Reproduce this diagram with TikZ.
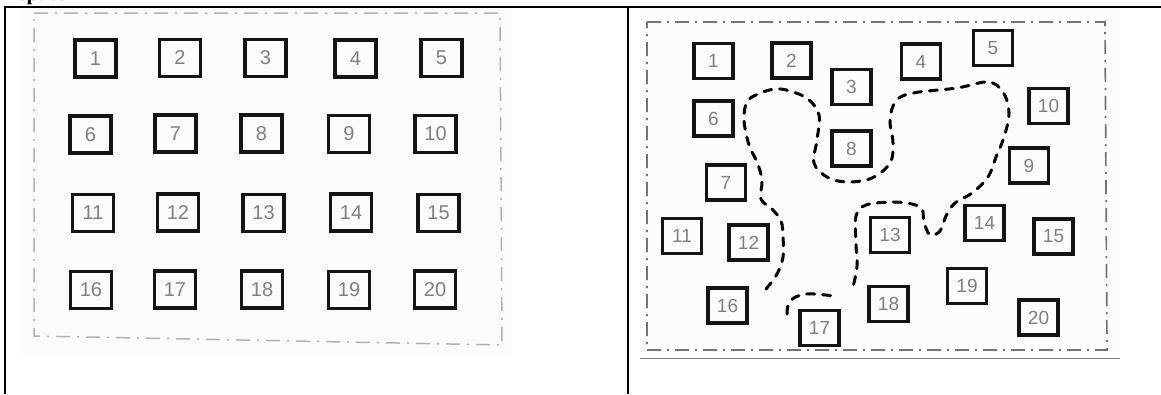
\documentclass[tikz,border=0pt]{standalone}
\usepackage{fontspec}
\setmainfont{Liberation Serif}
\setsansfont{Liberation Sans}
\begin{document}
\begin{tikzpicture}[x=1pt,y=-1pt,
  sbox/.style={draw=black!92, line width=3.2pt, rectangle, inner sep=0pt,
    minimum width=41pt, minimum height=37pt,
    font=\sffamily\fontsize{20}{20}\selectfont, text=black!50},
  rbox/.style={sbox, minimum width=39pt, minimum height=35pt,
    font=\sffamily\fontsize{19}{19}\selectfont},
  frameline/.style={line width=2pt, black},
  leftborder/.style={draw=black!30, line width=1.5pt,
    dash pattern=on 14pt off 7pt on 2pt off 7pt},
  rightborder/.style={draw=black!55, line width=1.7pt,
    dash pattern=on 14pt off 6pt on 2pt off 6pt},
  space/.style={draw=black, line width=3pt, line cap=round,
    dash pattern=on 8pt off 8pt}
]
\useasboundingbox (0,0) rectangle (1161,394);
% scanned backgrounds
\fill[black!1.5] (20,9) rectangle (512,356);
\fill[black!1] (640,9) rectangle (1120,358);
\draw[black!50, line width=0.8pt] (640,358) -- (1120,358);
% table frame
\coordinate (TL) at (5,6.5);
\coordinate (TR) at (1161,6.5);
\coordinate (BL) at (5,394);
\coordinate (DT) at (628,6.5);
\coordinate (DB) at (628,394);
\draw[frameline] (TR) -- (TL) -- (BL);
\draw[frameline] (DT) -- (DB);
\node[anchor=base west, inner sep=0pt, font=\bfseries\fontsize{20}{20}\selectfont] (title) at (19,0.8) {space};
% left sketch border
\draw[leftborder] (34,13) -- (500,13) -- (502,345) -- (34,336) -- cycle;
% left grid
\node[sbox] (L1) at (95.5,58.5) {1};
\node[sbox] (L2) at (180,58) {2};
\node[sbox] (L3) at (265.5,58) {3};
\node[sbox] (L4) at (355.5,58.5) {4};
\node[sbox] (L5) at (441.5,58) {5};
\node[sbox] (L6) at (90.5,134.5) {6};
\node[sbox] (L7) at (175.5,133.5) {7};
\node[sbox] (L8) at (261.5,133.5) {8};
\node[sbox] (L9) at (349,134) {9};
\node[sbox] (L10) at (435.5,134) {10};
\node[sbox] (L11) at (93,213) {11};
\node[sbox] (L12) at (178,212.5) {12};
\node[sbox] (L13) at (263.5,213) {13};
\node[sbox] (L14) at (351,212.5) {14};
\node[sbox] (L15) at (438.5,213) {15};
\node[sbox] (L16) at (91,290) {16};
\node[sbox] (L17) at (175,289.5) {17};
\node[sbox] (L18) at (262,289.5) {18};
\node[sbox] (L19) at (349,290) {19};
\node[sbox] (L20) at (435,289.5) {20};
% right sketch border
\draw[rightborder] (647,22) -- (1105,22) -- (1107,350) -- (647,350) -- cycle;
% right scattered boxes
\node[rbox] (R1) at (713.5,61) {1};
\node[rbox] (R2) at (791.5,60.5) {2};
\node[rbox] (R3) at (851.5,87) {3};
\node[rbox] (R4) at (921,61.5) {4};
\node[rbox] (R5) at (993,48) {5};
\node[rbox] (R6) at (713.5,118.5) {6};
\node[rbox] (R7) at (726,182.5) {7};
\node[rbox] (R8) at (851.5,148.5) {8};
\node[rbox] (R9) at (1029,165.5) {9};
\node[rbox] (R10) at (1048.5,106) {10};
\node[rbox] (R11) at (682,236) {11};
\node[rbox] (R12) at (748.5,242.5) {12};
\node[rbox] (R13) at (890,235) {13};
\node[rbox] (R14) at (984.5,223) {14};
\node[rbox] (R15) at (1053.5,236.5) {15};
\node[rbox] (R16) at (727.5,305.5) {16};
\node[rbox] (R17) at (819.5,328) {17};
\node[rbox] (R18) at (888.5,304) {18};
\node[rbox] (R19) at (967,286) {19};
\node[rbox] (R20) at (1038.5,317.5) {20};
% open space outline
\draw[space] plot[smooth, tension=0.6] coordinates {
  (766,289) (777,274) (783,257) (783,237) (781,221) (772,209) (761,199)
  (762,180) (757,162) (749,145) (744,120) (747,102) (758,94) (775,89)
  (790,91) (808,99) (819,115) (817,140) (814,163) (827,177) (847,182)
  (872,178) (890,163) (893,143) (890,120) (896,101) (913,93) (957,88)
  (988,82) (1003,92) (1009,113) (1004,137) (996,157) (988,177) (972,193)
  (955,203) (946,216) (940,231) (930,235) (924,222) (922,209) (912,204)
  (893,202) (866,205) (856,216) (856,244) (857,266) (853,287)};
\draw[space] plot[smooth, tension=0.6] coordinates {
  (787,314) (790,301) (806,294) (834,296)};
\end{tikzpicture}
\end{document}
